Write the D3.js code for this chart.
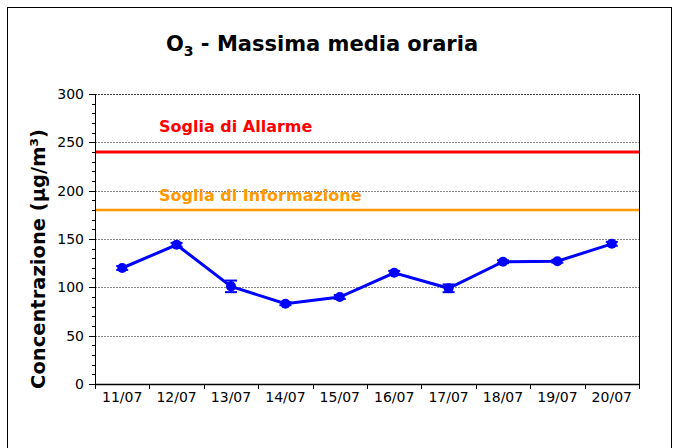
<!DOCTYPE html>
<html><head><meta charset="utf-8">
<script src="https://cdn.jsdelivr.net/npm/d3@7/dist/d3.min.js"></script>
<style>body{margin:0;background:#fff}svg{display:block}</style>
</head><body>
<script>
const categories = ["11/07","12/07","13/07","14/07","15/07","16/07","17/07","18/07","19/07","20/07"];
const values = [120, 144, 101, 83, 90, 115, 99, 126.5, 127, 145];
const errors = [2, 2, 6, 1.5, 2, 2, 4, 1.5, 1.5, 2];
const yTicks = [0, 50, 100, 150, 200, 250, 300];
const thresholds = [
  {label: "Soglia di Allarme", value: 240, color: "#ff0000", labelValue: 267},
  {label: "Soglia di Informazione", value: 180, color: "#ff9900", labelValue: 195}
];

const W = 679, H = 448;
const m = {l: 95, r: 639, t: 94, b: 384};
const font = "'DejaVu Sans', Verdana, sans-serif";
const svg = d3.select("body").append("svg").attr("width", W).attr("height", H);

// outer border
svg.append("rect").attr("x", 7.5).attr("y", 7.5).attr("width", 664).attr("height", 450)
  .attr("fill", "none").attr("stroke", "#000").attr("stroke-width", 1);

const x = d3.scaleBand().domain(categories).range([m.l, m.r]);
const y = d3.scaleLinear().domain([0, 300]).range([m.b, m.t]);

// gridlines
svg.append("g").selectAll("line").data(yTicks.filter(d => d > 0)).join("line")
  .attr("x1", m.l).attr("x2", m.r).attr("y1", d => Math.round(y(d)) + 0.5).attr("y2", d => Math.round(y(d)) + 0.5)
  .attr("stroke", d => d === 300 ? "#444" : "#888").attr("stroke-width", 1).attr("stroke-dasharray", "2,1");

// right border
svg.append("line").attr("x1", m.r + 0.5).attr("x2", m.r + 0.5).attr("y1", m.t).attr("y2", m.b)
  .attr("stroke", "#000");

// thresholds
thresholds.forEach((t, i) => {
  svg.append("line").attr("x1", m.l).attr("x2", m.r).attr("y1", y(t.value)).attr("y2", y(t.value))
    .attr("stroke", t.color).attr("stroke-width", i === 0 ? 3 : 2.5);
  svg.append("text").attr("x", 159).attr("y", y(t.labelValue)).attr("dy", "0.35em").text(t.label)
    .attr("fill", t.color).attr("font-family", font).attr("font-weight", "bold").attr("font-size", 16);
});

// y axis
const minor = d3.range(0, 301, 10);
const ya = svg.append("g");
ya.append("line").attr("x1", m.l + 0.5).attr("x2", m.l + 0.5).attr("y1", m.t).attr("y2", m.b).attr("stroke", "#000");
ya.selectAll("line.mn").data(minor).join("line").attr("class", "mn")
  .attr("x1", d => yTicks.includes(d) ? m.l - 6 : m.l - 3).attr("x2", m.l)
  .attr("y1", d => Math.round(y(d)) + 0.5).attr("y2", d => Math.round(y(d)) + 0.5).attr("stroke", "#000");
ya.selectAll("text").data(yTicks).join("text")
  .attr("x", m.l - 11).attr("y", d => y(d)).attr("dy", "0.35em").attr("text-anchor", "end")
  .attr("font-family", font).attr("font-size", 14).attr("fill", "#000").text(d => d);

// x axis
const xa = svg.append("g");
xa.append("line").attr("x1", m.l).attr("x2", m.r + 1).attr("y1", m.b + 0.5).attr("y2", m.b + 0.5).attr("stroke", "#000").attr("stroke-width", 1.5);
const bounds = categories.map(c => x(c)).concat([m.r]);
xa.selectAll("line.tk").data(bounds).join("line").attr("class", "tk")
  .attr("x1", d => Math.round(d) + 0.5).attr("x2", d => Math.round(d) + 0.5)
  .attr("y1", m.b).attr("y2", m.b + 5).attr("stroke", "#000");
xa.selectAll("text").data(categories).join("text")
  .attr("x", d => x(d) + x.bandwidth() / 2).attr("y", m.b + 18).attr("text-anchor", "middle")
  .attr("font-family", font).attr("font-size", 14).attr("fill", "#000").text(d => d);

// series
const cx = (d, i) => x(categories[i]) + x.bandwidth() / 2;
svg.append("path").datum(values)
  .attr("d", d3.line().x(cx).y(d => y(d)))
  .attr("fill", "none").attr("stroke", "#0000ff").attr("stroke-width", 3);
const eb = svg.append("g").attr("stroke", "#0000ff").attr("stroke-width", 2);
values.forEach((v, i) => {
  const px = cx(v, i);
  eb.append("line").attr("x1", px).attr("x2", px).attr("y1", y(v - errors[i])).attr("y2", y(v + errors[i]));
  eb.append("line").attr("x1", px - 6).attr("x2", px + 6).attr("y1", y(v - errors[i])).attr("y2", y(v - errors[i]));
  eb.append("line").attr("x1", px - 6).attr("x2", px + 6).attr("y1", y(v + errors[i])).attr("y2", y(v + errors[i]));
});
svg.append("g").selectAll("circle").data(values).join("circle")
  .attr("cx", cx).attr("cy", d => y(d)).attr("r", 5).attr("fill", "#0000ff");

// title
const title = svg.append("text").attr("x", 322).attr("y", 51).attr("text-anchor", "middle")
  .attr("font-family", font).attr("font-weight", "bold").attr("font-size", 21).attr("fill", "#000");
title.append("tspan").text("O");
title.append("tspan").text("3").attr("font-size", 14).attr("dy", 5);
title.append("tspan").text(" - Massima media oraria").attr("dy", -5);

// y label
svg.append("text").attr("transform", `translate(45,259) rotate(-90)`)
  .attr("text-anchor", "middle").attr("font-family", font).attr("font-weight", "bold")
  .attr("font-size", 19.5).attr("fill", "#000").text("Concentrazione (µg/m³)");
</script>
</body></html>
